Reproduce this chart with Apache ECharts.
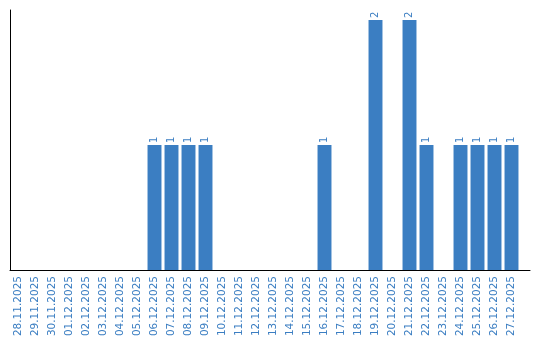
<!DOCTYPE html>
<html><head><meta charset="utf-8">
<script src="https://cdn.jsdelivr.net/npm/echarts@6/dist/echarts.min.js"></script>
<style>html,body{margin:0;padding:0;background:#fff}#c{width:540px;height:340px}</style>
</head><body><div id="c"></div>
<script>
const categories = ["28.11.2025","29.11.2025","30.11.2025","01.12.2025","02.12.2025","03.12.2025","04.12.2025","05.12.2025","06.12.2025","07.12.2025","08.12.2025","09.12.2025","10.12.2025","11.12.2025","12.12.2025","13.12.2025","14.12.2025","15.12.2025","16.12.2025","17.12.2025","18.12.2025","19.12.2025","20.12.2025","21.12.2025","22.12.2025","23.12.2025","24.12.2025","25.12.2025","26.12.2025","27.12.2025"];
const values = [0,0,0,0,0,0,0,0,1,1,1,1,0,0,0,0,0,0,1,0,0,2,0,2,1,0,1,1,1,1];
const blue = '#3b7ec2';
const chart = echarts.init(document.getElementById('c'), null, {renderer:'canvas'});
chart.setOption({
  animation:false,
  grid:[{left:10,right:20,top:10,bottom:70,containLabel:false},
        {left:10,right:10,top:10,bottom:70,containLabel:false}],
  xAxis:[{type:'category',data:categories,gridIndex:0,
    axisLine:{show:false},axisTick:{show:false},
    axisLabel:{rotate:90,color:blue,fontFamily:'DejaVu Sans',fontSize:10.5,margin:6,interval:0}},
    {type:'value',gridIndex:1,min:0,max:1,
    axisLine:{show:true,lineStyle:{color:'#000',width:1}},axisTick:{show:false},
    axisLabel:{show:false},splitLine:{show:false}}],
  yAxis:[{type:'value',gridIndex:0,min:0,max:2.08,
    axisLine:{show:true,lineStyle:{color:'#000',width:1}},axisTick:{show:false},
    axisLabel:{show:false},splitLine:{show:false}},
    {type:'value',gridIndex:1,min:0,max:1,show:false}],
  series:[{type:'bar',data:values,xAxisIndex:0,yAxisIndex:0,barCategoryGap:'18%',itemStyle:{color:blue},
    label:{show:true,position:'top',rotate:90,align:'left',verticalAlign:'middle',distance:2,
      color:blue,fontFamily:'DejaVu Sans',fontSize:10,
      formatter:p=>p.value>0?p.value:''}}]
});
</script></body></html>
